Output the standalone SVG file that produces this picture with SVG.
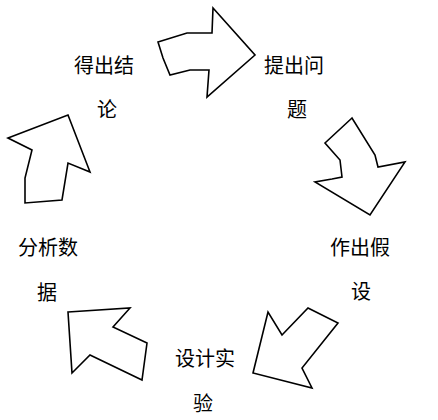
<svg xmlns="http://www.w3.org/2000/svg" width="438" height="420" viewBox="0 0 438 420">
<style>
.arrow{fill:#fff;stroke:#000;stroke-width:1.6;stroke-linejoin:miter}
.lbl{font-family:"Noto Sans CJK SC","Liberation Sans",sans-serif;font-size:20px;fill:#000;text-anchor:middle}
</style>
<rect width="438" height="420" fill="#fff"/>
<g id="connectors">
<polygon id="arrow1" class="arrow" points="158,42 187,33 212,33 213,8 255,55 207,97 209,70 190,70 170,75 163,58"/>
<polygon id="arrow2" class="arrow" points="352,118 325,143 340,160 342,177 332,179 315,182 370,215 405,162 378,167 375,155"/>
<polygon id="arrow3" class="arrow" points="308,308 338,323 302,368 312,388 253,373 268,312 282,335"/>
<polygon id="arrow4" class="arrow" points="68,312 130,308 113,327 147,343 142,380 90,355 72,373"/>
<polygon id="arrow5" class="arrow" points="8,138 68,115 90,172 68,163 62,200 25,203 25,178 32,150"/>
</g>
<g id="n1"><text class="lbl" x="104" y="73">得出结</text><text class="lbl" x="107" y="117">论</text></g>
<g id="n2"><text class="lbl" x="294" y="73">提出问</text><text class="lbl" x="297" y="117">题</text></g>
<g id="n3"><text class="lbl" x="360" y="255">作出假</text><text class="lbl" x="361" y="299">设</text></g>
<g id="n4"><text class="lbl" x="205" y="366">设计实</text><text class="lbl" x="203" y="411">验</text></g>
<g id="n5"><text class="lbl" x="48" y="255">分析数</text><text class="lbl" x="47" y="300">据</text></g>
</svg>
